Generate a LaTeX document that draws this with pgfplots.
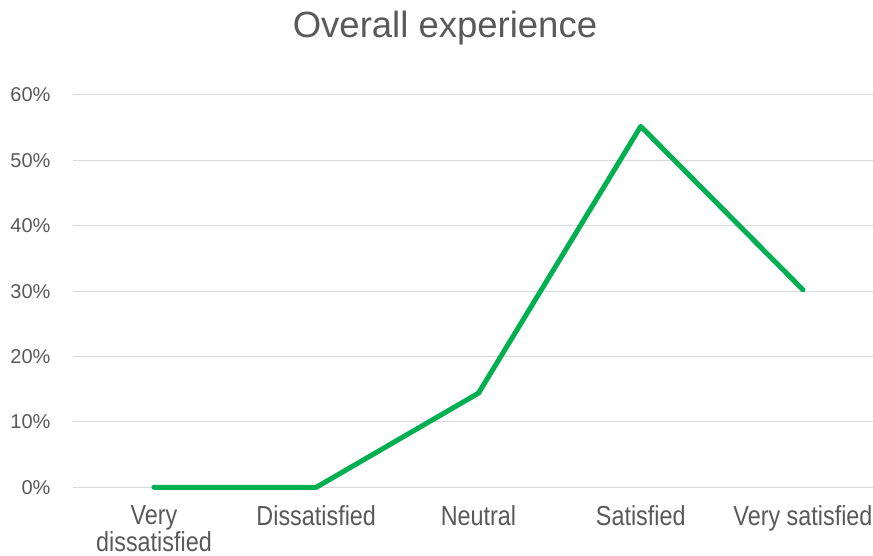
\documentclass[border=0pt]{standalone}
\usepackage{fontspec}
\setmainfont{Liberation Sans}
\newfontfamily\catfont[FakeStretch=0.85]{Liberation Sans}
\usepackage{pgfplots}
\pgfplotsset{compat=1.18}
\definecolor{txtgray}{HTML}{595959}
\definecolor{gridgray}{HTML}{D9D9D9}
\definecolor{linegreen}{HTML}{00B050}
\begin{document}
\begin{tikzpicture}
\useasboundingbox (0,0) rectangle (873bp,556bp);
\node[anchor=base, text=txtgray, font=\fontsize{36.5bp}{42bp}\selectfont, inner sep=0pt] at (445bp,518bp) {Overall experience};
\begin{axis}[
  at={(73bp,68.7bp)}, anchor=south west,
  scale only axis, width=800bp, height=392.3bp,
  xmin=-0.4992, xmax=4.4315, ymin=0, ymax=60,
  clip=false,
  axis line style={draw=none},
  tick style={draw=none},
  ymajorgrids,
  grid style={gridgray, line width=1bp},
  xtick={0,1,2,3,4},
  xticklabels={{Very\\dissatisfied}, Dissatisfied, Neutral, Satisfied, Very satisfied},
  ytick={0,10,20,30,40,50,60},
  yticklabel={\pgfmathprintnumber{\tick}\%},
  /pgf/number format/assume math mode=true,
  yticklabel style={anchor=east, inner sep=0pt, xshift=-22.3bp, text=txtgray,
    font=\fontsize{20bp}{22bp}\selectfont},
  xticklabel style={anchor=north, inner sep=0pt, align=center, yshift=-18bp, text=txtgray,
    font=\catfont\fontsize{27.5bp}{27bp}\selectfont},
]
\addplot[linegreen, line width=5bp, line cap=round, line join=round] coordinates {
  (0,0) (1,0) (2,14.4) (3,55.2) (4,30.2)
};
\end{axis}
\end{tikzpicture}
\end{document}
